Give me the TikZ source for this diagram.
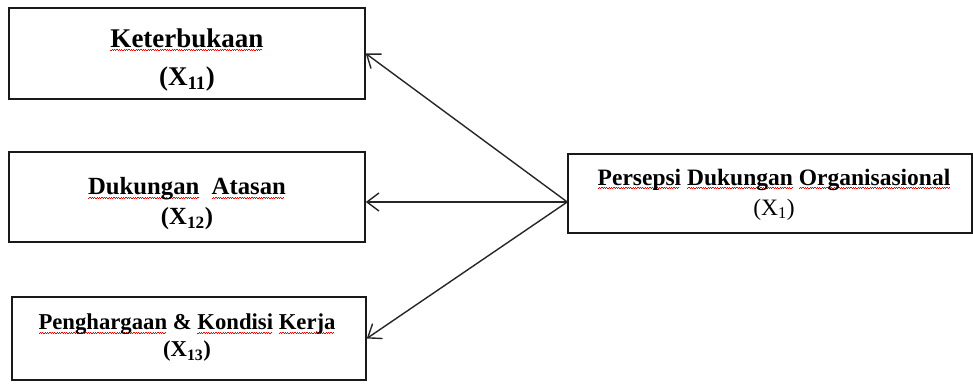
\documentclass[tikz,border=0pt]{standalone}
\usepackage{fontspec}
\setmainfont{Liberation Serif}
\usetikzlibrary{arrows.meta}
% red squiggle under a word (spell-check mark)
\newsavebox\wordbox
\newcommand\spellmark[1]{\sbox\wordbox{#1}\rlap{\color{red}\leaders\hbox{\rule[-3.8pt]{1.2pt}{0.8pt}\rule[-2.8pt]{1.2pt}{0.8pt}}\hskip\wd\wordbox}\usebox\wordbox}
\begin{document}
\begin{tikzpicture}[x=1pt,y=-1pt,
  box/.style={draw=black!90, line width=1.5pt, inner sep=0pt},
  lbl/.style={align=center, inner sep=0pt, text=black},
  link/.style={draw=black!85, line width=1.4pt,
    -{Straight Barb[length=12pt,width=18pt,line width=1.4pt]}}]
\useasboundingbox (0,0) rectangle (973,383);

% boxes
\node[box, minimum width=356pt, minimum height=91pt] (b1) at (187,53.5) {};
\node[box, minimum width=356pt, minimum height=90pt] (b2) at (187,197) {};
\node[box, minimum width=354pt, minimum height=83pt] (b3) at (189,338.5) {};
\node[box, minimum width=404pt, minimum height=79pt] (p) at (770,193.5) {};

% labels
\node[lbl, font={\fontsize{27}{38}\selectfont\bfseries}] (t1) at (187,59.7)
  {\spellmark{Keterbukaan}\\(X\textsubscript{11})};
\node[lbl, font={\fontsize{24.7}{30}\selectfont\bfseries}] (t2) at (187,203.9)
  {\spellmark{Dukungan}\ \ \spellmark{Atasan}\\(X\textsubscript{12})};
\node[lbl, font={\fontsize{22.7}{27}\selectfont\bfseries}] (t3) at (187,338)
  {\spellmark{Penghargaan} \& \spellmark{Kondisi} \spellmark{Kerja}\\(X\textsubscript{13})};
\node[lbl, font={\fontsize{23.5}{30}\selectfont}] (t4) at (774,194.4)
  {\textbf{\spellmark{Persepsi} \spellmark{Dukungan} \spellmark{Organisasional}}\\(X\textsubscript{1})};

% connectors
\coordinate (src) at (p.west |- 0,202);
\draw[link] (src) -- (b1.east);
\draw[link] (src) -- (b2.east |- src);
\draw[link] (src) -- (b3.east);
\end{tikzpicture}
\end{document}
